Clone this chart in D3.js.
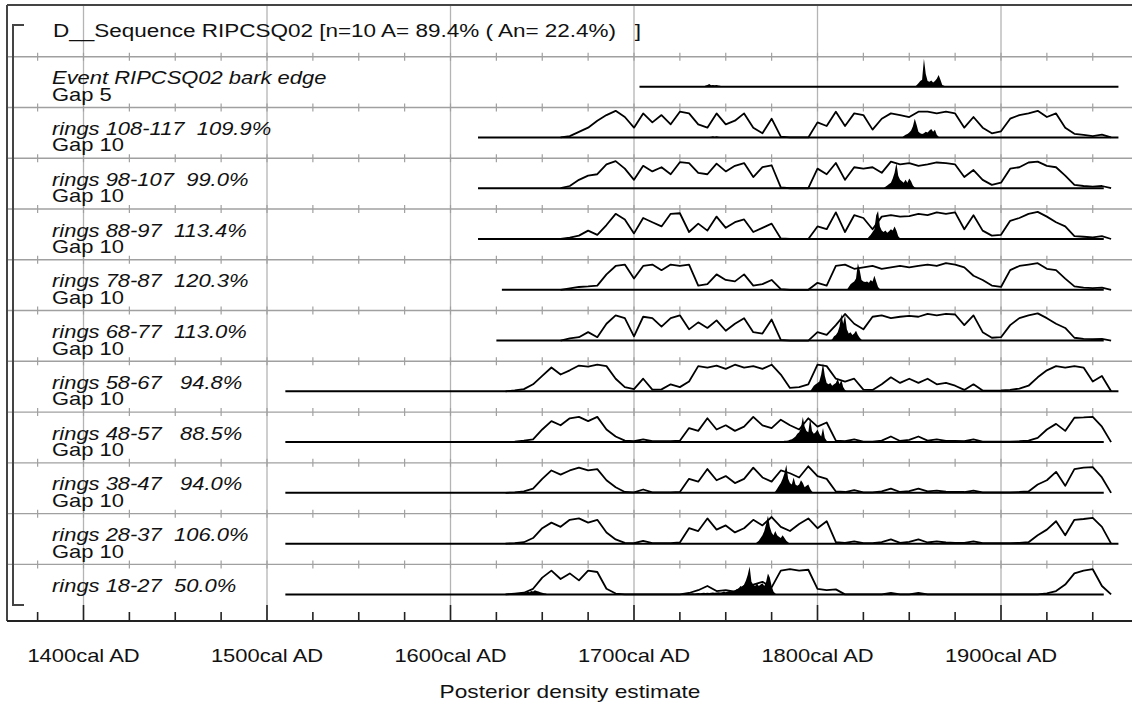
<!DOCTYPE html>
<html><head><meta charset="utf-8">
<script src="https://cdn.jsdelivr.net/npm/d3@7"></script>
<style>
body{margin:0;background:#fff}
svg text{font-family:"Liberation Sans",Arial,sans-serif;fill:#111}
</style>
</head><body>
<svg id="chart" width="1132" height="713"></svg>
<script>
// ---------------- data ----------------
const titleText = "D__Sequence RIPCSQ02 [n=10 A= 89.4% ( An= 22.4%)   ]";
const rowLabels = ["Event RIPCSQ02 bark edge","rings 108-117  109.9%","rings 98-107  99.0%","rings 88-97  113.4%","rings 78-87  120.3%","rings 68-77  113.0%","rings 58-67   94.8%","rings 48-57   88.5%","rings 38-47   94.0%","rings 28-37  106.0%","rings 18-27  50.0%"];
const gapLabels = ["Gap 5","Gap 10","Gap 10","Gap 10","Gap 10","Gap 10","Gap 10","Gap 10","Gap 10","Gap 10",""];
const rangeStart = [1703,1615,1615,1615,1628,1625,1510,1510,1510,1510,1510];
const rangeEnd   = [1964,1964,1956,1956,1956,1956,1964,1956,1956,1964,1956];
const tickYears = [1400,1500,1600,1700,1800,1900];
const tickLabels = ["1400cal AD","1500cal AD","1600cal AD","1700cal AD","1800cal AD","1900cal AD"];
const axisTitle = "Posterior density estimate";

// outlines (unmodelled), 5-year steps
const outlineStep = 5;
const outlineStart = [null,1660,1660,1660,1660,1660,1630,1630,1630,1630,1630];
const out_108_117 = [0,0.05,0.2,0.35,0.6,0.8,0.95,0.73,0.35,0.86,0.54,0.8,0.47,0.92,0.86,0.47,0.35,0.86,0.47,0.6,0.86,0.35,0.15,0.67,0.03,0,0,0,0.54,0.41,0.92,0.41,0.86,0.8,0.28,0.67,0.86,0.8,0.73,0.92,0.92,0.86,0.92,0.86,0.35,0.73,0.35,0.15,0.22,0.67,0.8,0.86,0.95,0.73,0.86,0.35,0.13,0.09,0.05,0.1,0];
const out_98_107 = [0,0.08,0.3,0.45,0.5,0.85,0.97,0.7,0.3,0.8,0.6,0.75,0.5,0.93,0.9,0.55,0.5,0.88,0.6,0.8,0.9,0.4,0.75,0.82,0.03,0,0,0,0.7,0.5,0.9,0.3,0.75,0.7,0.75,0.55,0.95,0.85,0.9,0.8,0.85,0.92,0.9,0.85,0.4,0.65,0.3,0.12,0.2,0.7,0.75,0.92,0.95,0.8,0.75,0.45,0.12,0.08,0.06,0.08,0];
const out_88_97 = [0,0.05,0.12,0.3,0.15,0.5,0.9,0.7,0.2,0.75,0.6,0.45,0.9,0.92,0.25,0.55,0.3,0.8,0.4,0.6,0.7,0.25,0.4,0.55,0.02,0,0,0,0.45,0.35,0.95,0.25,0.85,0.75,0.35,0.8,0.85,0.8,0.82,0.9,0.85,0.95,0.9,0.95,0.35,0.85,0.3,0.12,0.15,0.65,0.75,0.9,0.97,0.8,0.6,0.45,0.1,0.08,0.06,0.1,0];
const out_78_87 = [0,0.05,0.1,0.12,0.15,0.55,0.85,0.9,0.4,0.85,0.9,0.7,0.9,0.85,0.9,0.15,0.2,0.55,0.35,0.3,0.55,0.15,0.2,0.35,0.02,0,0,0,0.25,0.15,0.85,0.9,0.75,0.8,0.85,0.75,0.8,0.85,0.8,0.85,0.9,0.85,0.95,0.9,0.8,0.5,0.35,0.15,0.1,0.7,0.85,0.9,0.95,0.75,0.7,0.4,0.12,0.08,0.06,0.08,0];
const out_68_77 = [0,0.08,0.12,0.3,0.12,0.6,0.9,0.8,0.15,0.85,0.8,0.5,0.8,0.9,0.4,0.65,0.45,0.72,0.35,0.6,0.8,0.3,0.25,0.75,0.02,0,0,0,0.3,0.2,0.55,0.95,0.6,0.4,0.85,0.9,0.8,0.85,0.88,0.85,0.95,0.9,0.95,0.93,0.55,0.9,0.3,0.1,0.12,0.55,0.8,0.9,0.97,0.8,0.6,0.45,0.1,0.06,0.05,0.06,0];
const out_58_67 = [0,0.03,0.08,0.25,0.55,0.85,0.6,0.75,0.92,0.88,0.95,0.9,0.45,0.15,0.08,0.45,0.06,0.07,0.25,0.15,0.35,0.9,0.85,0.92,0.8,0.95,0.85,0.9,0.8,0.95,0.6,0.12,0.15,0.25,0.95,0.9,0.45,0.35,0.45,0.06,0.05,0.25,0.5,0.3,0.45,0.3,0.45,0.25,0.3,0.2,0.05,0.25,0.03,0.02,0.03,0.05,0.1,0.2,0.5,0.75,0.9,0.85,0.9,0.85,0.35,0.55,0];
const out_48_57 = [0,0.02,0.05,0.1,0.45,0.75,0.6,0.85,0.9,0.75,0.9,0.45,0.2,0.05,0.03,0.1,0.03,0.03,0.03,0.05,0.5,0.4,0.85,0.45,0.6,0.4,0.55,0.9,0.6,0.5,0.8,0.6,0.45,0.85,0.55,0.7,0.05,0.03,0.1,0.02,0.02,0.05,0.2,0.04,0.08,0.2,0.05,0.1,0.04,0.04,0.03,0.1,0.02,0.02,0.02,0.02,0.03,0.05,0.15,0.45,0.65,0.4,0.87,0.88,0.9,0.55,0];
const out_38_47 = [0,0.02,0.05,0.15,0.5,0.8,0.65,0.8,0.9,0.8,0.85,0.45,0.2,0.03,0.02,0.12,0.02,0.02,0.02,0.03,0.5,0.4,0.85,0.45,0.6,0.35,0.5,0.9,0.55,0.4,0.8,0.7,0.55,0.95,0.6,0.5,0.05,0.03,0.1,0.02,0.02,0.05,0.15,0.03,0.06,0.15,0.05,0.08,0.04,0.03,0.03,0.08,0.02,0.02,0.02,0.02,0.03,0.05,0.3,0.45,0.75,0.25,0.85,0.9,0.92,0.55,0];
const out_28_37 = [0,0.02,0.05,0.2,0.55,0.75,0.6,0.85,0.9,0.75,0.85,0.4,0.15,0.03,0.02,0.1,0.02,0.02,0.02,0.04,0.55,0.45,0.9,0.5,0.65,0.4,0.55,0.85,0.65,0.95,0.6,0.45,0.7,0.9,0.55,0.8,0.05,0.03,0.08,0.02,0.02,0.05,0.15,0.03,0.06,0.15,0.04,0.08,0.04,0.03,0.03,0.08,0.02,0.02,0.02,0.02,0.03,0.05,0.3,0.5,0.8,0.3,0.85,0.88,0.92,0.6,0];
const out_18_27 = [0,0.03,0.06,0.2,0.6,0.85,0.55,0.75,0.5,0.85,0.8,0.2,0.03,0,0,0,0,0,0,0,0.05,0.15,0.3,0.12,0.15,0.1,0.3,0.35,0.45,0.25,0.85,0.9,0.85,0.88,0.2,0.15,0.18,0,0,0,0,0,0.05,0,0,0.05,0,0,0,0,0,0,0,0,0,0,0,0,0,0.04,0.12,0.35,0.75,0.85,0.9,0.3,0];
const outlines = [null,out_108_117,out_98_107,out_88_97,out_78_87,out_68_77,out_58_67,out_48_57,out_38_47,out_28_37,out_18_27];

// posteriors (modelled, filled), 1-year steps
const postStart = [1853,1846,1836,1827,1816,1807,1796,1780,1776,1766,1728];
const post_event = [0,0.05,0.12,0.2,0.25,1.0,0.45,0.2,0.18,0.22,0.15,0.2,0.28,0.42,0.25,0.06,0.03,0];
const post_108_117 = [0,0.05,0.1,0.12,0.18,0.25,0.4,0.67,0.45,0.2,0.15,0.12,0.15,0.2,0.18,0.25,0.3,0.2,0.28,0.1,0.03,0];
const post_98_107 = [0,0.05,0.1,0.15,0.2,0.35,0.55,0.9,0.45,0.3,0.25,0.2,0.3,0.2,0.35,0.25,0.1,0.03,0];
const post_88_97 = [0,0.08,0.15,0.25,0.35,0.85,1.0,0.45,0.3,0.25,0.3,0.22,0.28,0.35,0.3,0.45,0.3,0.1,0.03,0];
const post_78_87 = [0,0.1,0.2,0.25,0.3,0.4,0.95,0.7,0.35,0.3,0.28,0.3,0.25,0.35,0.3,0.5,0.3,0.1,0.03,0];
const post_68_77 = [0,0.05,0.15,0.2,0.3,0.5,0.95,0.6,0.9,0.4,0.25,0.3,0.2,0.25,0.35,0.2,0.1,0.03,0];
const post_58_67 = [0,0.1,0.2,0.25,0.3,0.35,0.6,1.0,0.55,0.3,0.25,0.3,0.2,0.25,0.3,0.45,0.25,0.4,0.15,0.05,0];
const post_48_57 = [0,0.03,0.05,0.05,0.06,0.08,0.1,0.15,0.2,0.3,0.35,0.5,0.9,0.55,0.4,0.35,0.85,0.4,0.3,0.35,0.45,0.3,0.2,0.5,0.15,0.05,0];
const post_38_47 = [0,0.05,0.15,0.25,0.35,0.5,0.7,1.0,0.5,0.35,0.3,0.55,0.3,0.25,0.3,0.45,0.35,0.2,0.25,0.3,0.15,0.05,0];
const post_28_37 = [0,0.05,0.1,0.2,0.3,0.45,0.7,1.0,0.6,0.4,0.3,0.45,0.3,0.25,0.2,0.3,0.2,0.1,0.05,0];
const post_18_27 = [0,0.02,0.03,0.03,0.04,0.03,0.04,0.05,0.04,0.05,0.06,0.05,0.06,0.05,0.06,0.07,0.06,0.07,0.08,0.07,0.08,0.1,0.08,0.1,0.12,0.1,0.12,0.15,0.18,0.2,0.3,0.25,0.35,0.5,0.7,1.0,0.45,0.35,0.3,0.4,0.3,0.35,0.4,0.3,0.45,0.75,0.6,0.3,0.1,0.03,0];
const posteriors = [post_event,post_108_117,post_98_107,post_88_97,post_78_87,post_68_77,post_58_67,post_48_57,post_38_47,post_28_37,post_18_27];
// small secondary posterior lumps
const minorStart = [1738,1740,1634];
const minorRow = [0,1,10];
const minor_event = [0,0.04,0.06,0.1,0.05,0.06,0.05,0.06,0.04,0.03,0];
const minor_108_117 = [0,0.02,0.03,0.04,0.03,0.04,0.03,0.02,0];
const minor_18_27 = [0,0.03,0.05,0.04,0.06,0.05,0.08,0.06,0.1,0.08,0.12,0.1,0.15,0.12,0.1,0.08,0.06,0.04,0.03,0];
const minors = [minor_event,minor_108_117,minor_18_27];

// ---------------- drawing ----------------
const svg = d3.select("#chart");
const W = 1132;
const x = d3.scaleLinear().domain([1400,1900]).range([83.5,1001]);
const rowTop = d3.scaleLinear().domain([1,11]).range([56.7,564.4]);
const hScale = d3.scaleLinear().domain([0,1]).range([0,28]);
const baseY = i => rowTop(i+1) + 30;
function stretchedText(g, tx, ty, str, opts={}) {
  const t = g.append("text")
    .attr("transform", `translate(${tx},${ty}) scale(${opts.sx || 1.22},1)`)
    .attr("font-size", opts.size || 18)
    .attr("xml:space","preserve")
    .style("white-space","pre")
    .text(str);
  if (opts.italic) t.attr("font-style","italic");
  if (opts.anchor) t.attr("text-anchor", opts.anchor);
  return t;
}

const grid = svg.append("g");
grid.selectAll("line.v").data(tickYears).join("line")
  .attr("x1",d=>x(d)).attr("x2",d=>x(d)).attr("y1",5).attr("y2",621)
  .attr("stroke","#b4b4b4").attr("stroke-width",1.3);
const minorYears = d3.range(1375, 1976, 25);
for (let k=1;k<=11;k++){
  const y = rowTop(k);
  grid.append("line").attr("x1",7).attr("x2",W).attr("y1",y).attr("y2",y)
    .attr("stroke","#a0a0a0").attr("stroke-width",1.4);
  grid.selectAll(null).data(minorYears).join("line")
    .attr("x1",d=>x(d)).attr("x2",d=>x(d)).attr("y1",y-4).attr("y2",y+4)
    .attr("stroke","#a0a0a0").attr("stroke-width",1.2);
}
svg.append("line").attr("x1",7).attr("x2",W).attr("y1",5).attr("y2",5).attr("stroke","#444").attr("stroke-width",2);
svg.append("line").attr("x1",7).attr("x2",7).attr("y1",5).attr("y2",621).attr("stroke","#444").attr("stroke-width",2);
svg.append("path").attr("d","M24,25H13V605H24").attr("fill","none").attr("stroke","#444").attr("stroke-width",2);

const axisG = svg.append("g").attr("transform","translate(0,621)");
axisG.append("line").attr("x1",7).attr("x2",W).attr("stroke","#222").attr("stroke-width",2);
axisG.selectAll("line.t").data(minorYears).join("line")
  .attr("x1",d=>x(d)).attr("x2",d=>x(d)).attr("y1",0)
  .attr("y2",d=> d%100===0 ? -16 : -9)
  .attr("stroke","#222").attr("stroke-width",1.6);
tickYears.forEach((yr,i)=> stretchedText(svg, x(yr), 662, tickLabels[i], {anchor:"middle", size:18}));
stretchedText(svg, 570, 698, axisTitle, {anchor:"middle", size:18, sx:1.26});

stretchedText(svg, 53, 37, titleText, {size:18, sx:1.25});

const line = d3.line().curve(d3.curveLinear);
for (let r=0;r<11;r++){
  const b = baseY(r);
  const g = svg.append("g");
  const area = d3.area().x(d=>x(d[0])).y0(b).y1(d=>b-hScale(d[1]));
  const pv = posteriors[r].map((v,j)=>[postStart[r]+j, v]);
  g.append("path").attr("d",area(pv)).attr("fill","#000");
  minors.forEach((m,mi)=>{
    if (minorRow[mi]===r){
      const mv = m.map((v,j)=>[minorStart[mi]+j, v]);
      g.append("path").attr("d",area(mv)).attr("fill","#000");
    }
  });
  if (outlines[r]){
    const ov = outlines[r].map((v,j)=>[x(outlineStart[r]+j*outlineStep), b-hScale(v)]);
    g.append("path").attr("d",line(ov)).attr("fill","none").attr("stroke","#000").attr("stroke-width",1.8).attr("stroke-linejoin","round");
  }
  g.append("line").attr("x1",x(rangeStart[r])).attr("x2",x(rangeEnd[r])).attr("y1",b).attr("y2",b)
    .attr("stroke","#000").attr("stroke-width",2);
  stretchedText(svg, 52, b-2.5, rowLabels[r], {italic:true, size:18});
  if (gapLabels[r]) stretchedText(svg, 52, b+14, gapLabels[r], {size:18});
}
</script>
</body></html>
